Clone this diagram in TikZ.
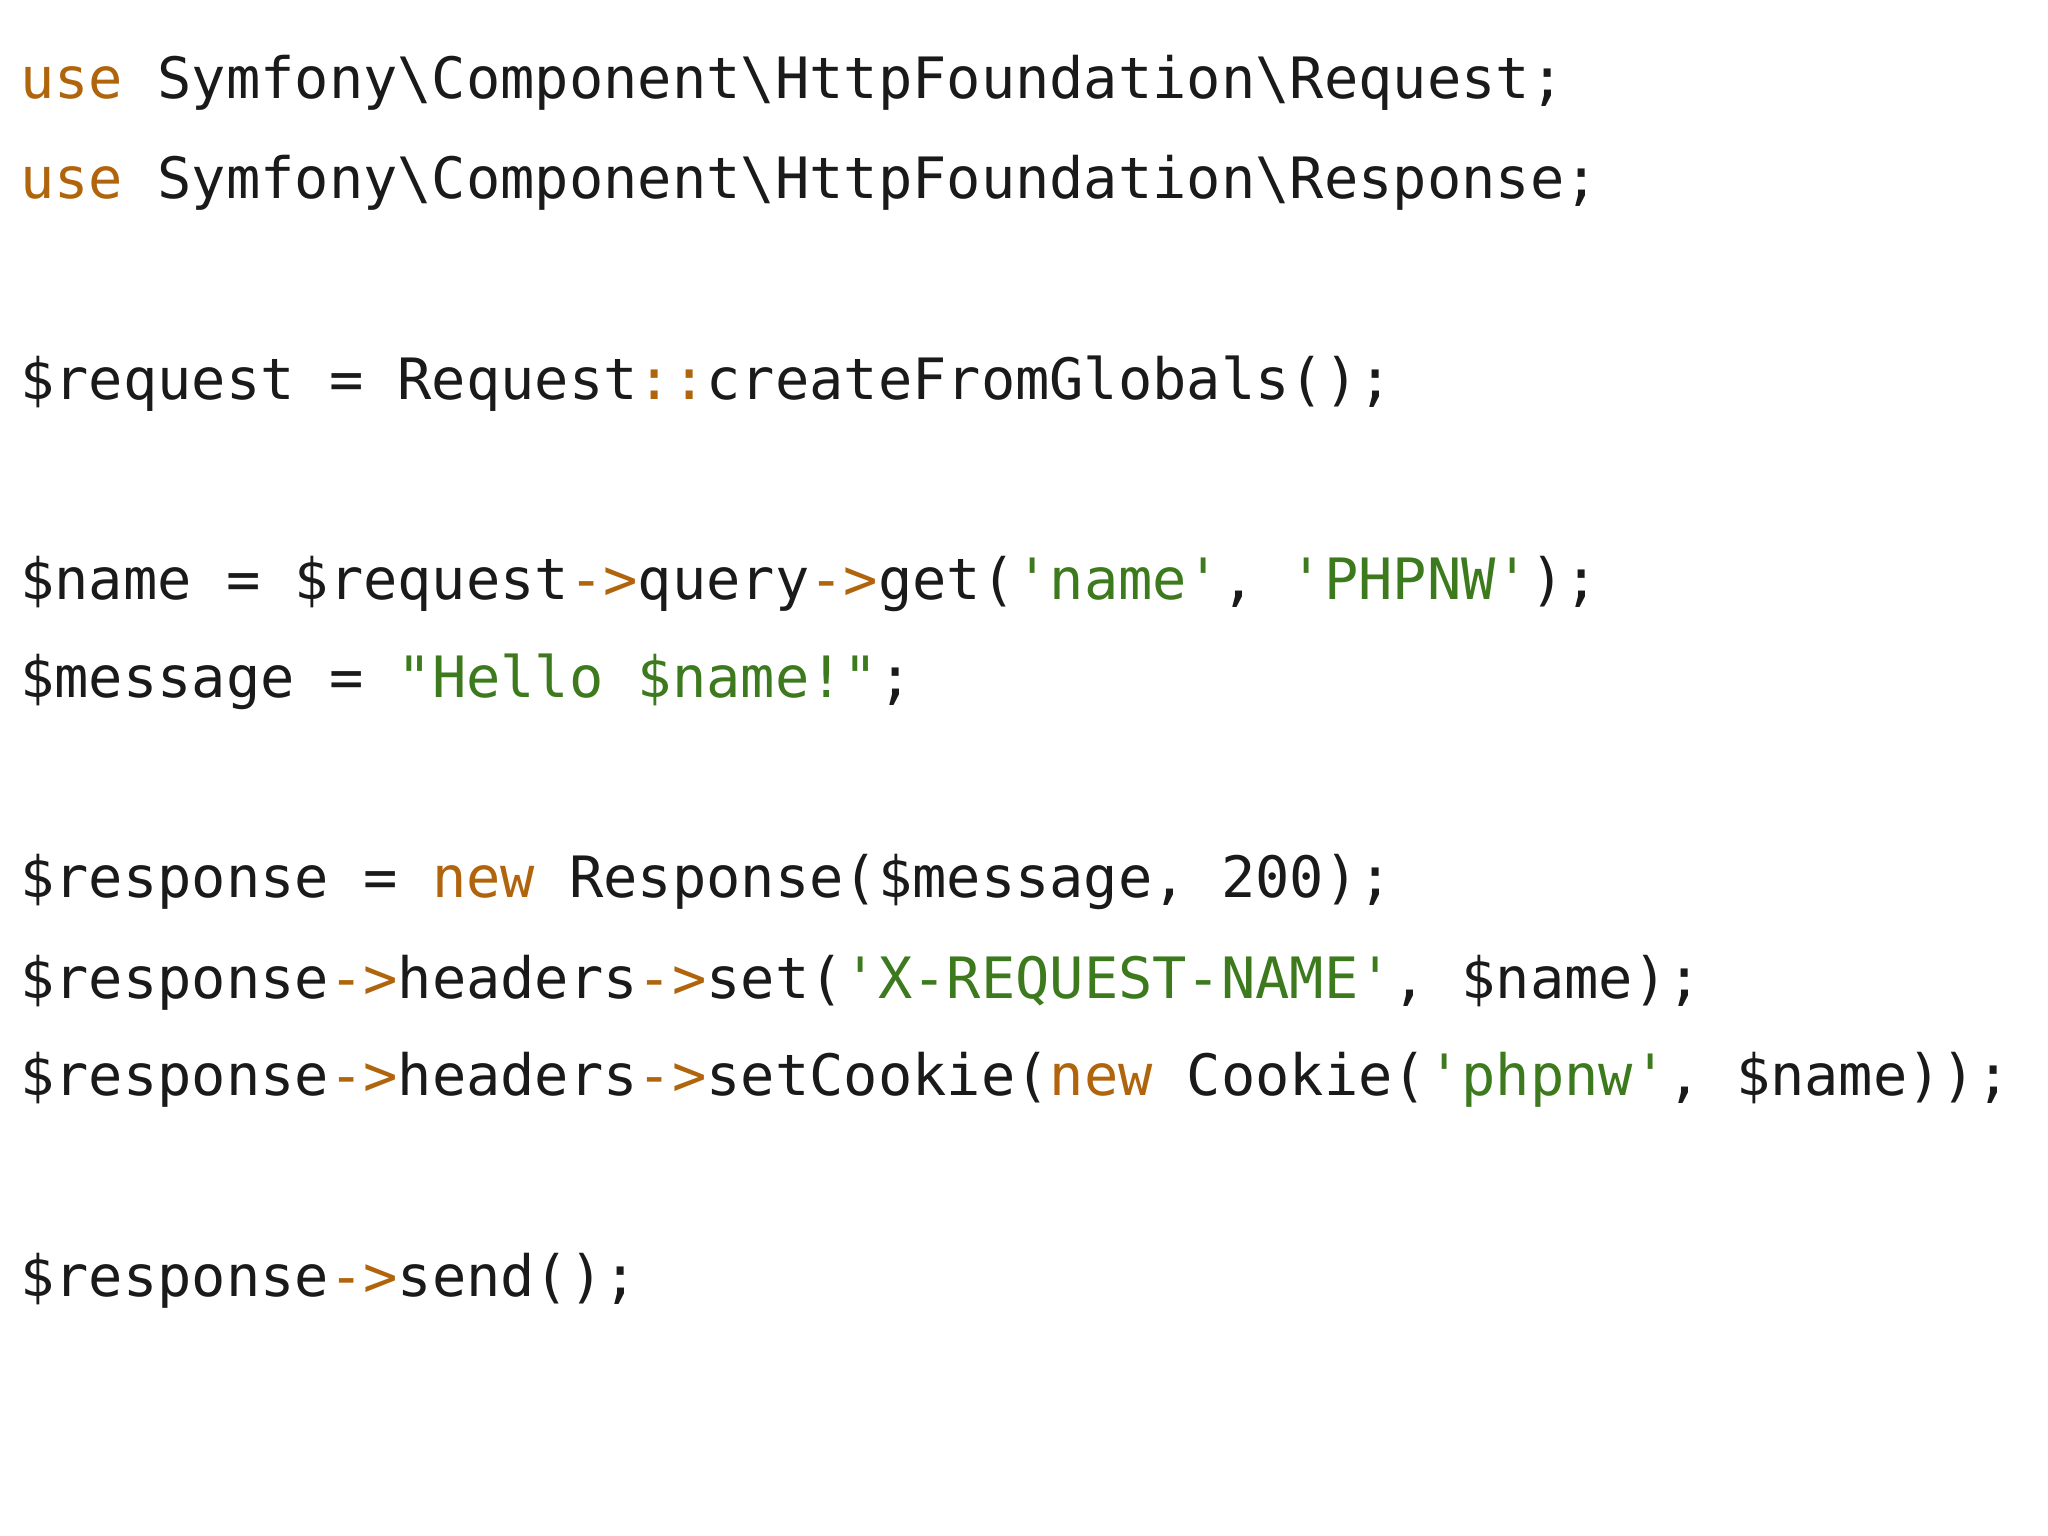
\documentclass[tikz,border=0pt]{standalone}
\usepackage{fontspec}
\newfontfamily\code{DejaVu Sans Mono}
\definecolor{kw}{HTML}{B0640C}
\definecolor{str}{HTML}{3D7A1E}
\definecolor{txt}{HTML}{1A1A1A}
\newcommand{\K}[1]{\textcolor{kw}{#1}}
\newcommand{\G}[1]{\textcolor{str}{#1}}
\newcommand{\bs}{\textbackslash}
\newcommand{\ar}{\K{->}}
\begin{document}
\begin{tikzpicture}[x=1pt,y=1pt,
  codeline/.style={anchor=base west,inner sep=0pt,font=\code\fontsize{57}{60}\selectfont,text=txt}]
\fill[white] (0,0) rectangle (2048,-1536);
\useasboundingbox (0,0) rectangle (2048,-1536);
\node[codeline] (l1) at (20,-99) {\K{use} Symfony\bs Component\bs HttpFoundation\bs Request;};
\node[codeline] (l2) at (20,-198) {\K{use} Symfony\bs Component\bs HttpFoundation\bs Response;};
\node[codeline] (l3) at (20,-399) {\$request = Request\K{::}createFromGlobals();};
\node[codeline] (l4) at (20,-599) {\$name = \$request\ar query\ar get(\G{'name'}, \G{'PHPNW'});};
\node[codeline] (l5) at (20,-697) {\$message = \G{"Hello \$name!"};};
\node[codeline] (l6) at (20,-897) {\$response = \K{new} Response(\$message, 200);};
\node[codeline] (l7) at (20,-998) {\$response\ar headers\ar set(\G{'X-REQUEST-NAME'}, \$name);};
\node[codeline] (l8) at (20,-1095) {\$response\ar headers\ar setCookie(\K{new} Cookie(\G{'phpnw'}, \$name));};
\node[codeline] (l9) at (20,-1296) {\$response\ar send();};
\end{tikzpicture}
\end{document}
